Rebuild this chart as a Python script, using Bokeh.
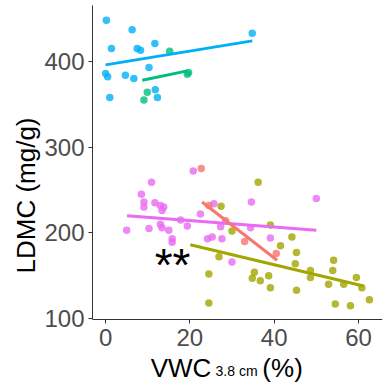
from bokeh.plotting import figure
from bokeh.models import Label, FixedTicker, Range1d
from bokeh.embed import file_html
from bokeh.resources import INLINE

# ---- data ----
blue_x = [0.2, 6.3, 1.4, 7.5, 8.3, 11.7, 10.3, 0.0, 0.5, 4.7, 6.7, 1.0, 11.8, 12.3, 34.8]
blue_y = [448, 437, 415, 415, 413, 421, 393, 386, 382, 384, 380, 358, 367, 358, 433]
blue_fit_x = [0.0, 34.8]
blue_fit_y = [396, 424]

green_x = [15.2, 19.4, 9.1, 9.9, 19.7]
green_y = [412, 385, 355, 364, 387]
green_fit_x = [8.7, 19.4]
green_fit_y = [378, 389]

magenta_x = [20.8, 10.9, 8.5, 9.1, 9.1, 11.7, 13.0, 13.8, 13.4, 22.5, 25.7, 5.0, 10.3, 13.0,
             13.4, 15.0, 15.8, 15.8, 17.8, 19.4, 24.2, 25.3, 27.6, 27.3, 30.0, 34.6, 34.4,
             39.1, 50.0]
magenta_y = [272, 259, 245, 236, 230, 235, 232, 230, 226, 222, 234, 203, 205, 210,
             206, 203, 193, 189, 215, 208, 193, 195, 193, 207, 166, 236, 206,
             194, 240]
magenta_fit_x = [5.1, 50.0]
magenta_fit_y = [220, 203]

salmon_x = [22.7, 24.5, 28.5, 33.0, 40.5]
salmon_y = [275, 232, 214, 190, 176]
salmon_fit_x = [22.9, 40.7]
salmon_fit_y = [236, 168]

olive_x = [36.2, 27.4, 30.0, 26.9, 24.5, 24.5, 35.3, 34.8, 36.7, 38.7, 39.1, 41.5, 44.2,
           45.3, 45.0, 45.3, 48.6, 48.6, 52.9, 54.1, 53.9, 54.5, 56.5, 58.1, 59.5, 60.8,
           62.6, 39.1]
olive_y = [259, 231, 202, 172, 152, 118, 154, 147, 144, 150, 136, 185, 195,
           177, 164, 133, 156, 148, 140, 168, 156, 117, 140, 115, 148, 136,
           122, 209]
olive_fit_x = [20.1, 61.2]
olive_fit_y = [186, 138]

x_ticks = [0, 20, 40, 60]
y_ticks = [100, 200, 300, 400]
y_floor = 98.5   # bottom of the data region (where the x axis sits)
y_axis_top = 465

FONT = "Liberation Sans"

p = figure(width=385, height=390, output_backend="svg", toolbar_location=None,
           x_range=Range1d(-3.1, 65.7), y_range=Range1d(16.0, 471.1),
           min_border_left=92, min_border_right=3, min_border_top=0, min_border_bottom=0)
p.grid.visible = False
p.outline_line_color = None
p.background_fill_color = "white"

groups = [
    (blue_x, blue_y, blue_fit_x, blue_fit_y, "#00B0F6"),
    (green_x, green_y, green_fit_x, green_fit_y, "#00BF7D"),
    (magenta_x, magenta_y, magenta_fit_x, magenta_fit_y, "#E76BF3"),
    (olive_x, olive_y, olive_fit_x, olive_fit_y, "#A3A500"),
    (salmon_x, salmon_y, salmon_fit_x, salmon_fit_y, "#F8766D"),
]
for gx, gy, fx, fy, c in groups:
    p.scatter(gx, gy, size=7.5, color=c, alpha=0.8, line_color=None)
for gx, gy, fx, fy, c in groups:
    p.line(fx, fy, line_color=c, line_width=3)

p.xaxis.ticker = FixedTicker(ticks=x_ticks)
p.yaxis.ticker = FixedTicker(ticks=y_ticks)
p.xaxis.fixed_location = y_floor
p.yaxis.bounds = (y_floor, y_axis_top)
for ax in (p.xaxis[0], p.yaxis[0]):
    ax.axis_line_color = "#333333"
    ax.axis_line_width = 1
    ax.major_tick_line_color = "#333333"
    ax.major_tick_out = 4
    ax.major_tick_in = 0
    ax.minor_tick_line_color = None
    ax.major_label_text_font = FONT
    ax.major_label_text_font_size = "24px"
    ax.major_label_text_color = "#4D4D4D"
p.yaxis.major_label_standoff = 4
p.xaxis.major_label_standoff = 5

p.yaxis.axis_label = "LDMC (mg/g)"
p.yaxis.axis_label_text_font = FONT
p.yaxis.axis_label_text_font_size = "26px"
p.yaxis.axis_label_text_font_style = "normal"
p.yaxis.axis_label_text_color = "black"
p.yaxis.axis_label_standoff = 0

# significance marker
p.add_layout(Label(x=15.9, y=163, text="**", text_font=FONT, text_font_size="46px",
                   text_color="black", text_align="center", text_baseline="alphabetic"))

# x-axis title with subscript
p.add_layout(Label(x=10.7, y=42.0, text="VWC", text_font=FONT, text_font_size="26px",
                   text_color="black", text_align="left", text_baseline="alphabetic"))
p.add_layout(Label(x=26.1, y=38.5, text="3.8 cm", text_font=FONT, text_font_size="14px",
                   text_color="black", text_align="left", text_baseline="alphabetic"))
p.add_layout(Label(x=37.2, y=42.0, text="(%)", text_font=FONT, text_font_size="26px",
                   text_color="black", text_align="left", text_baseline="alphabetic"))

open("out.html", "w").write(file_html(p, INLINE))
